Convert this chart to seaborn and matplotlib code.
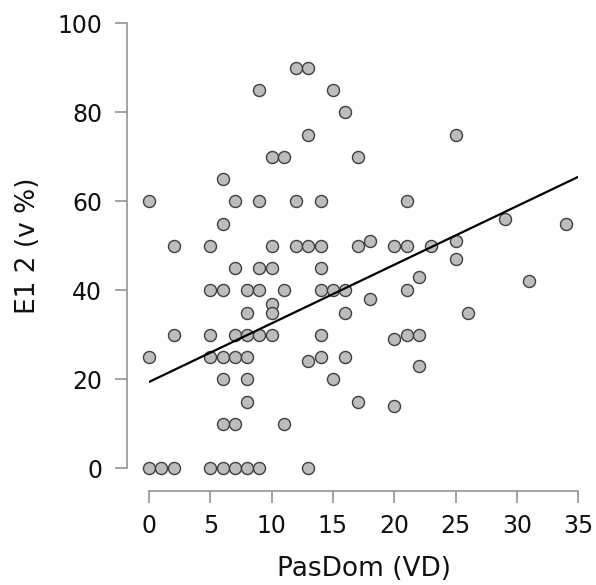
import matplotlib
matplotlib.use("Agg")
import matplotlib.pyplot as plt
import seaborn as sns
import pandas as pd

# PasDom (VD) values, one entry per participant
pasdom = [0, 0, 0,
          1,
          2, 2, 2,
          5, 5, 5, 5, 5,
          6, 6, 6, 6, 6, 6, 6,
          7, 7, 7, 7, 7, 7,
          8, 8, 8, 8, 8, 8, 8,
          9, 9, 9, 9, 9, 9,
          10, 10, 10, 10, 10, 10,
          11, 11, 11,
          12, 12, 12,
          13, 13, 13, 13, 13,
          14, 14, 14, 14, 14, 14,
          15, 15, 15,
          16, 16, 16, 16,
          17, 17, 17,
          18, 18,
          20, 20, 20,
          21, 21, 21, 21,
          22, 22, 22,
          23,
          25, 25, 25,
          26, 29, 31, 34]

# E1 2 (v %) values, same order
e12 = [60, 25, 0,
       0,
       50, 30, 0,
       50, 40, 30, 25, 0,
       65, 55, 40, 25, 20, 10, 0,
       60, 45, 30, 25, 10, 0,
       40, 35, 30, 25, 20, 15, 0,
       85, 60, 45, 40, 30, 0,
       70, 50, 45, 37, 35, 30,
       70, 40, 10,
       90, 60, 50,
       90, 75, 50, 24, 0,
       60, 50, 45, 40, 30, 25,
       85, 40, 20,
       80, 40, 35, 25,
       70, 50, 15,
       51, 38,
       50, 29, 14,
       60, 50, 40, 30,
       43, 30, 23,
       50,
       75, 51, 47,
       35, 56, 42, 55]

# fitted trend line as shown in the chart (ends)
fit_x = [0, 35]
fit_y = [19.4, 65.5]

x_ticks = [0, 5, 10, 15, 20, 25, 30, 35]
y_ticks = [0, 20, 40, 60, 80, 100]

df = pd.DataFrame({"PasDom (VD)": pasdom, "E1 2 (v %)": e12})
fit = pd.DataFrame({"x": fit_x, "y": fit_y})

sns.set_style("ticks")
plt.rcParams["font.family"] = ["DejaVu Sans"]

fig = plt.figure(figsize=(5.96, 5.85), dpi=100)
ax = fig.add_axes([0.25, 0.1995, 0.7203, 0.7607])

sns.scatterplot(data=df, x="PasDom (VD)", y="E1 2 (v %)", ax=ax,
                s=75, color="#bdbdbd", edgecolor="#3f3f3f", linewidth=1.0,
                clip_on=False, zorder=3)
sns.lineplot(data=fit, x="x", y="y", ax=ax, color="black", lw=1.6,
             zorder=4)

ax.set_xlim(0, 35)
ax.set_ylim(0, 100)
ax.set_xticks(x_ticks)
ax.set_yticks(y_ticks)

for side in ["top", "right"]:
    ax.spines[side].set_visible(False)
for side in ["left", "bottom"]:
    ax.spines[side].set_position(("outward", 16))
    ax.spines[side].set_color("#8a8a8a")
    ax.spines[side].set_linewidth(1.1)

ax.tick_params(axis="both", length=8.6, width=1.1, color="#8a8a8a",
               labelsize=17, labelcolor="#111111")
ax.tick_params(axis="y", pad=9)
ax.tick_params(axis="x", pad=8)

ax.set_xlabel("PasDom (VD)", fontsize=19, color="#111111", labelpad=13)
ax.set_ylabel("E1 2 (v %)", fontsize=19, color="#111111", labelpad=12)

fig.savefig("out.png", dpi=100)
